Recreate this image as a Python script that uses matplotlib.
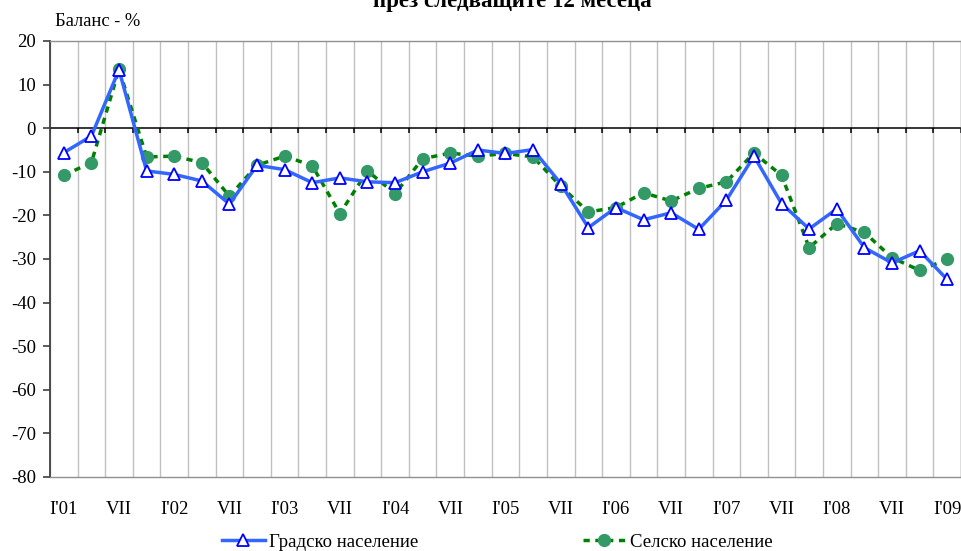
import numpy as np
import matplotlib
matplotlib.use("Agg")
import matplotlib.pyplot as plt

plt.rcParams["font.family"] = ["Liberation Serif", "DejaVu Serif"]
plt.rcParams["axes.unicode_minus"] = False

# quarterly balance, I'01 .. I'09 (33 quarters)
tick_labels = ["I'01", "VII", "I'02", "VII", "I'03", "VII", "I'04", "VII", "I'05",
               "VII", "I'06", "VII", "I'07", "VII", "I'08", "VII", "I'09"]
urban = [-5.6, -1.8, 13.4, -9.8, -10.6, -12.1, -17.4, -8.5, -9.5, -12.5,
         -11.4, -12.3, -12.5, -10.0, -8.0, -5.0, -5.8, -4.9, -12.7, -22.8,
         -18.2, -21.0, -19.4, -23.2, -16.5, -6.4, -17.3, -23.1, -18.5, -27.4,
         -30.9, -28.1, -34.7]
rural = [-10.8, -7.9, 13.5, -6.6, -6.4, -7.9, -15.6, -8.5, -6.4, -8.6,
         -19.6, -9.8, -15.0, -7.0, -5.7, -6.4, -5.8, -6.6, -13.3, -19.2,
         -18.2, -14.8, -16.7, -13.8, -12.3, -5.7, -10.8, -27.4, -21.9, -23.9,
         -29.7, -32.6, -30.1]
urban_label = "Градско население"
rural_label = "Селско население"

x = np.arange(len(urban))

fig = plt.figure(figsize=(9.62, 5.51), dpi=100)
ax = fig.add_axes([50 / 962, 1 - 477 / 551, 911 / 962, 436 / 551])

ax.plot(x, urban, color="#3366FF", lw=2.5, marker="^", ms=8, mfc="white",
        mec="#0000FF", mew=1.3, label=urban_label, zorder=4)
ax.plot(x, rural, color="#008000", lw=2.5, ls=(0, (1.8, 1.6)), marker="o", ms=8.5,
        mfc="#339966", mec="#339966", label=rural_label, zorder=3)

ax.set_xlim(-0.5, len(x) - 0.5)
ax.set_ylim(-80, 20)
ax.set_yticks(np.arange(-80, 21, 10))

# category axis: labels every half year, boundaries as grid + ticks on the zero line
ax.set_xticks(x[::2])
ax.set_xticklabels(tick_labels)
bounds = np.arange(-0.5, len(x), 1.0)
ax.set_xticks(bounds, minor=True)
ax.tick_params(axis="x", which="both", length=0, pad=17, labelsize=13.5)
ax.grid(axis="x", which="minor", color="#C0C0C0", lw=1)
ax.set_axisbelow(True)
ax.axhline(0, color="black", lw=1.1, zorder=2)
ax.vlines(bounds, -1.0, 0, color="black", lw=1.1, zorder=2)

ax.tick_params(axis="y", length=5, width=1.2, pad=5, labelsize=13.5, color="#404040")
ax.spines["left"].set_color("#404040")
ax.spines["left"].set_linewidth(1.3)
for s in ("top", "right", "bottom"):
    ax.spines[s].set_color("#909090")
    ax.spines[s].set_linewidth(1)

fig.text(55 / 962, 1 - 22 / 551, "Баланс - %", fontsize=13.3, va="center", ha="left")
# title sits mostly above the canvas, as in the original export
fig.text(512 / 962, 1 - 7 / 551, "през следващите 12 месеца", fontsize=16.5,
         fontweight="bold", ha="center", va="baseline")

fig.legend(loc="center", bbox_to_anchor=(497 / 962, 9 / 551), ncol=2, frameon=False,
           fontsize=13.5, handlelength=2.3, handletextpad=0.2, columnspacing=8.8)

fig.savefig("out.png", dpi=100)
